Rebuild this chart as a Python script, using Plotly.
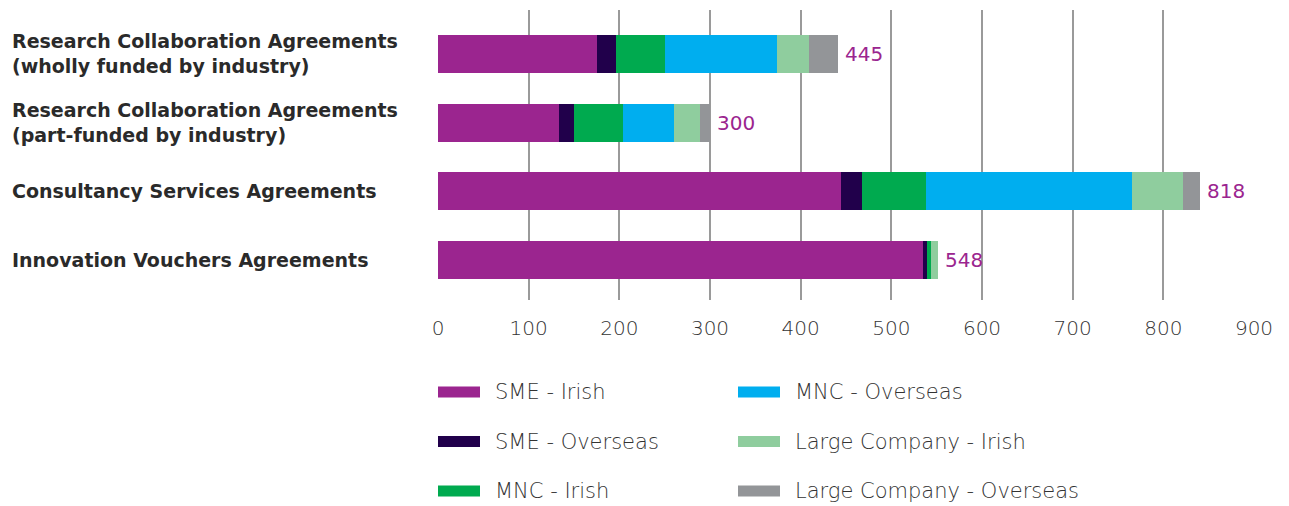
import plotly.graph_objects as go

categories = [
    "Research Collaboration Agreements<br>(wholly funded by industry)",
    "Research Collaboration Agreements<br>(part-funded by industry)",
    "Consultancy Services Agreements",
    "Innovation Vouchers Agreements",
]
series_names = ["SME - Irish", "SME - Overseas", "MNC - Irish",
                "MNC - Overseas", "Large Company - Irish", "Large Company - Overseas"]
sme_irish = [175, 134, 444, 535]
sme_overseas = [21, 16, 24, 4]
mnc_irish = [54, 54, 70, 5]
mnc_overseas = [124, 56, 227, 0]
large_irish = [35, 29, 57, 8]
large_overseas = [32, 11, 18, 0]
totals = [445, 300, 818, 548]
x_ticks = [0, 100, 200, 300, 400, 500, 600, 700, 800, 900]

series_values = [sme_irish, sme_overseas, mnc_irish, mnc_overseas, large_irish, large_overseas]
colors = ["#9b258f", "#21004b", "#00aa4f", "#00aeef", "#8fcd9e", "#939598"]

OFF = 8  # page body margin
W, H = 1289 - OFF, 506 - OFF
L, R, T, B = 438 - OFF, 35, 10 - OFF, 206
pw = W - L - R
ph = H - T - B

fig = go.Figure()
idx = list(range(len(categories)))
for name, vals, col in zip(series_names, series_values, colors):
    fig.add_trace(go.Bar(
        y=idx, x=vals, name=name, orientation="h",
        marker=dict(color=col, line=dict(width=0)),
        width=0.553, showlegend=False, hoverinfo="x+name",
    ))

# value labels
for i, t in enumerate(totals):
    end = sum(v[i] for v in series_values)
    fig.add_annotation(x=end, y=i, xref="x", yref="y", text=str(t),
                       showarrow=False, xanchor="left", xshift=5,
                       font=dict(family="DejaVu Sans", size=20, color="#9b258f", weight=500))

# category labels
for i, c in enumerate(categories):
    fig.add_annotation(x=(10 - OFF - L) / pw, y=i, xref="paper", yref="y", text=c,
                       showarrow=False, xanchor="left", align="left",
                       font=dict(family="DejaVu Sans", size=19, color="#2a2a2a", weight=600))

# legend (manual, two columns)
def px_to_paper_x(px):
    return (px - OFF - L) / pw

def px_to_paper_y(py):
    return (H - B - (py - OFF)) / ph

for k, (name, col) in enumerate(zip(series_names, colors)):
    colk, rowk = divmod(k, 3)
    x0 = 438 + colk * 300
    yc = 392 + rowk * 49.5
    fig.add_shape(type="rect", xref="paper", yref="paper",
                  x0=px_to_paper_x(x0), x1=px_to_paper_x(x0 + 42),
                  y0=px_to_paper_y(yc + 5.5), y1=px_to_paper_y(yc - 5.5),
                  fillcolor=col, line=dict(width=0))
    fig.add_annotation(x=px_to_paper_x(x0 + 55), y=px_to_paper_y(yc), xref="paper", yref="paper",
                       text=name, showarrow=False, xanchor="left", yanchor="middle",
                       font=dict(family="DejaVu Sans", size=21, color="#333333", weight=200))

fig.update_layout(
    width=W, height=H,
    margin=dict(l=L, r=R, t=T, b=B),
    plot_bgcolor="white", paper_bgcolor="white",
    barmode="stack", bargap=0,
    showlegend=False,
    xaxis=dict(range=[0, 900], tickvals=x_ticks, showgrid=True, gridcolor="#9a9a9a",
               gridwidth=2, zeroline=False, showline=False, ticks="",
               ticklabelstandoff=14,
               tickfont=dict(family="DejaVu Sans", size=20, color="#333333", weight=200)),
    yaxis=dict(range=[3.58, -0.64], showticklabels=False, showgrid=False,
               zeroline=False, showline=False, ticks=""),
)

fig.write_html("out.html")
